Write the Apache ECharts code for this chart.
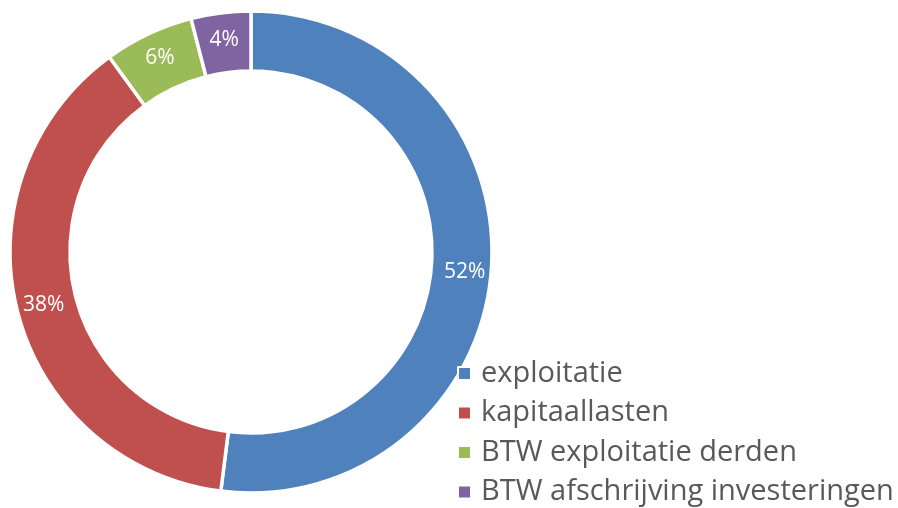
<!DOCTYPE html>
<html>
<head>
<meta charset="utf-8">
<script src="https://cdn.jsdelivr.net/npm/echarts@6/dist/echarts.min.js"></script>
<style>
  html, body { margin: 0; padding: 0; background: #ffffff; }
  #chart { width: 898px; height: 508px; }
</style>
</head>
<body>
<div id="chart"></div>
<script>
// Cost breakdown, share per category (percent)
const categories = ['exploitatie', 'kapitaallasten', 'BTW exploitatie derden', 'BTW afschrijving investeringen'];
const shares = [52, 38, 6, 4];
const colors = ['#4F81BD', '#C0504D', '#9BBB59', '#8064A2'];

const chart = echarts.init(document.getElementById('chart'), null, { renderer: 'canvas' });

chart.setOption({
  backgroundColor: '#ffffff',
  color: colors,
  animation: false,
  legend: {
    orient: 'vertical',
    left: 457,
    top: 359,
    width: 460,
    height: 200,
    padding: 0,
    itemWidth: 13,
    itemHeight: 13,
    itemGap: 10.5,
    icon: 'rect',
    textStyle: {
      fontFamily: 'Open Sans',
      fontSize: 29,
      color: '#595959',
      padding: [0, 0, 0, 5]
    },
    data: categories
  },
  series: [{
    type: 'pie',
    center: [251, 252],
    radius: [181, 241],
    startAngle: 90,
    clockwise: true,
    itemStyle: { borderColor: '#ffffff', borderWidth: 3.5 },
    label: {
      show: true,
      position: 'inside',
      formatter: '{c}%',
      color: '#ffffff',
      fontFamily: 'Open Sans',
      fontSize: 21
    },
    labelLine: { show: false },
    data: categories.map((name, i) => ({
      name: name,
      value: shares[i],
      label: i === 0 ? { offset: [0, 7] } : undefined
    }))
  }]
});
</script>
</body>
</html>
